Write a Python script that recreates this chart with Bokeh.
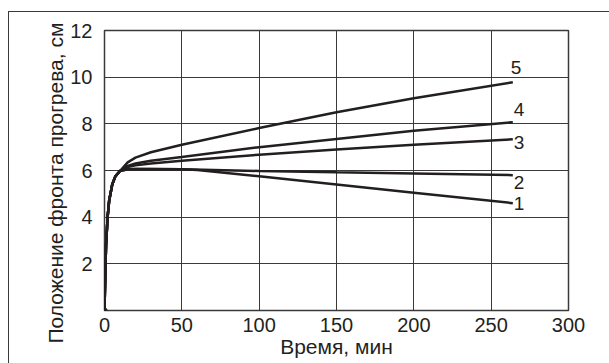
from bokeh.plotting import figure
from bokeh.models import FixedTicker, Title
from bokeh.core.properties import value
from bokeh.embed import file_html
from bokeh.resources import INLINE

# Shared initial rise (min, cm)
rise_t = [0, 0.5, 1, 2, 3, 5, 7, 10]
rise_y = [0, 1.5, 2.8, 4.0, 4.7, 5.4, 5.75, 5.98]

t1 = [15, 20, 30, 50, 60, 100, 150, 200, 264]
y1 = [6.05, 6.06, 6.06, 6.05, 6.02, 5.75, 5.4, 5.05, 4.6]
t2 = [15, 20, 50, 100, 150, 200, 264]
y2 = [6.05, 6.06, 6.05, 5.98, 5.92, 5.87, 5.8]
t3 = [15, 20, 30, 50, 100, 150, 200, 264]
y3 = [6.15, 6.22, 6.3, 6.42, 6.68, 6.9, 7.1, 7.34]
t4 = [15, 20, 30, 50, 100, 150, 200, 264]
y4 = [6.2, 6.3, 6.42, 6.58, 7.0, 7.35, 7.7, 8.07]
t5 = [15, 20, 30, 50, 100, 150, 200, 264]
y5 = [6.35, 6.55, 6.78, 7.1, 7.82, 8.5, 9.1, 9.78]

series = [(t1, y1), (t2, y2), (t3, y3), (t4, y4), (t5, y5)]

label_text = ["1", "2", "3", "4", "5"]
label_x = [268, 268, 268, 268, 266]
label_y = [4.6, 5.5, 7.2, 8.62, 10.42]

x_ticks = [0, 50, 100, 150, 200, 250, 300]
y_ticks = [2, 4, 6, 8, 10, 12]

x_title = "Время, мин"
y_title = "Положение фронта прогрева, см"

FONT = "Liberation Sans"
INK = "#231f20"

p = figure(width=601, height=352, output_backend="svg", toolbar_location=None,
           x_range=(0, 300), y_range=(0, 12),
           min_border_left=95, min_border_right=42,
           min_border_top=18, min_border_bottom=54)
p.margin = (11, 0, 0, 8)
p.styles = {"border-left": "1.5px solid #3a3a3a",
            "border-top": "1.5px solid #3a3a3a"}
p.background_fill_color = "white"
p.border_fill_color = "white"
p.outline_line_color = "#3a3a3a"
p.outline_line_width = 1.5

for ax in (p.xaxis[0], p.yaxis[0]):
    ax.axis_line_color = None
    ax.major_tick_line_color = None
    ax.minor_tick_line_color = None
    ax.major_label_text_font = FONT
    ax.major_label_text_font_size = "20px"
    ax.major_label_text_color = INK
    ax.axis_label_text_font = FONT
    ax.axis_label_text_font_size = "21px"
    ax.axis_label_text_font_style = "normal"
    ax.axis_label_text_color = INK

p.xaxis.ticker = FixedTicker(ticks=x_ticks)
p.yaxis.ticker = FixedTicker(ticks=y_ticks)
p.xaxis.axis_label = x_title
p.xaxis.major_label_standoff = 1
p.xaxis.axis_label_standoff = 0
p.yaxis.major_label_standoff = 6

p.add_layout(Title(text=y_title, align="left", offset=-33, standoff=1,
                   text_font=FONT, text_font_size="21px",
                   text_font_style="normal", text_color=INK), "left")

p.xgrid.ticker = FixedTicker(ticks=x_ticks)
p.ygrid.ticker = FixedTicker(ticks=y_ticks)
p.grid.grid_line_color = "#3a3a3a"
p.grid.grid_line_width = 1

for t, y in series:
    p.line(rise_t + t, rise_y + y, line_color=INK, line_width=2.5)

p.scatter([0], [0], marker="diamond", size=9, color=INK)

p.text(label_x, label_y, text=label_text, text_font=value(FONT),
       text_font_size="19px", text_color=INK, text_align="center",
       text_baseline="middle")

open("out.html", "w").write(file_html(p, INLINE))
